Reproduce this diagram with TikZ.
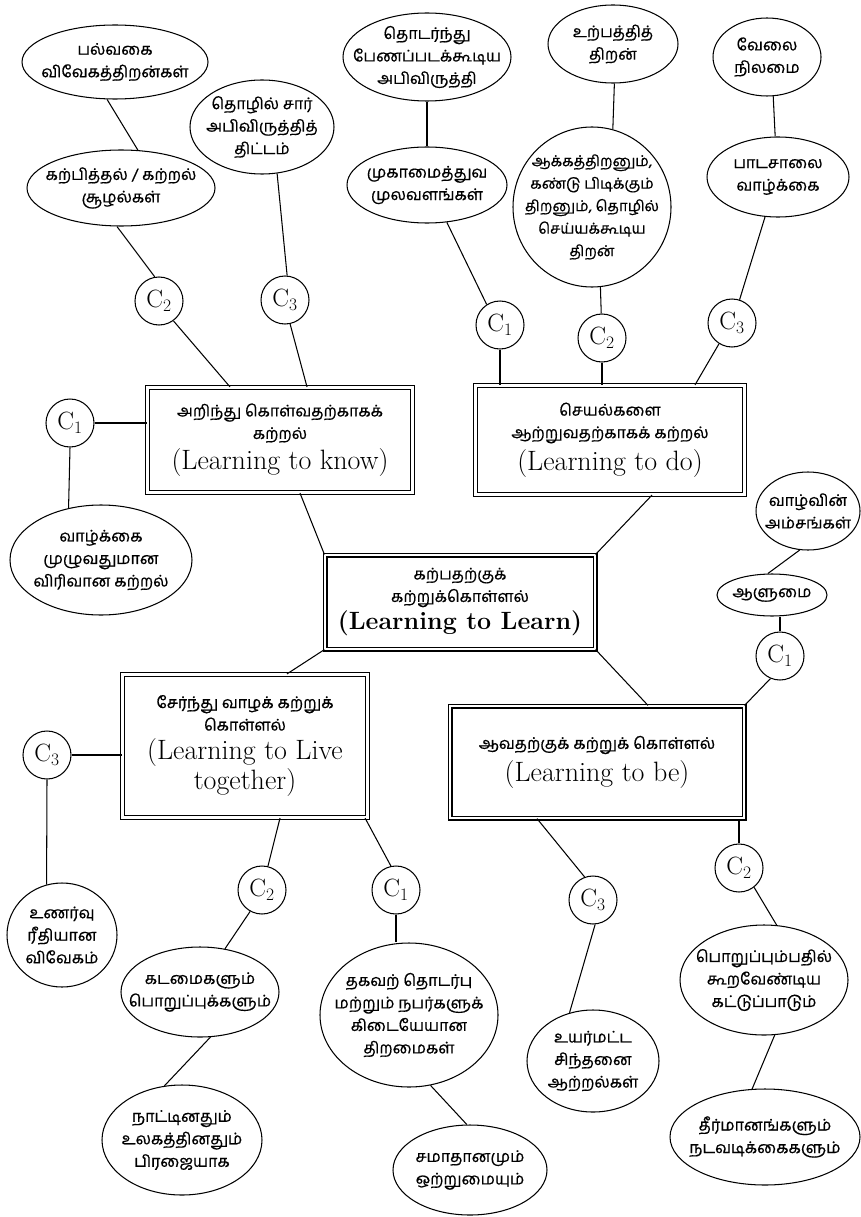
\documentclass[tikz,border=0pt]{standalone}
\usepackage{fontspec}
\usetikzlibrary{shapes.geometric}
\newfontfamily\tamil[Script=Tamil,FakeBold=0.6]{Hind Madurai}
\newcommand{\tamfont}{\tamil\fontsize{16}{22.5}\selectfont}
\newcommand{\engfont}{\rmfamily\fontsize{28}{31}\selectfont}

\begin{document}
\begin{tikzpicture}[x=1pt,y=-1pt,line width=1.05pt,
    ell/.style={draw,ellipse,inner sep=0pt},
    tam/.style={font=\tamfont,align=center,inner sep=0pt},
    cir/.style={draw,circle,minimum size=48,inner sep=0pt,font=\fontsize{25}{25}\selectfont},
    dbox/.style={draw,double,double distance=2.6pt,line width=1.2pt,align=center,inner sep=2pt,font=\tamfont}]
    \useasboundingbox (0,0) rectangle (861,1217);

    % centre and the four pillars
    \node[dbox,minimum width=270,minimum height=94] (learn) at (460,602)
        {கற்பதற்குக்\\கற்றுக்கொள்ளல்\\[3pt]{\engfont\fontsize{25}{30}\selectfont\bfseries (Learning to Learn)}};
    \node[dbox,minimum width=265,minimum height=105] (know) at (280,440)
        {அறிந்து கொள்வதற்காகக்\\கற்றல்\\[5pt]{\engfont (Learning to know)}};
    \node[dbox,minimum width=269,minimum height=109] (do) at (610,440)
        {செயல்களை\\ஆற்றுவதற்காகக் கற்றல்\\[5pt]{\engfont (Learning to do)}};
    \node[dbox,minimum width=245,minimum height=143] (live) at (245,746)
        {சேர்ந்து வாழக் கற்றுக்\\கொள்ளல்\\[6pt]{\engfont (Learning to Live}\\[2pt]{\engfont together)}};
    \node[dbox,minimum width=294,minimum height=112] (be) at (597,762)
        {ஆவதற்குக் கற்றுக் கொள்ளல்\\[5pt]{\engfont (Learning to be)}};

    % C1, C2, C3
    \foreach \n/\x/\y/\i in {ka1/70/423/1,ka2/159/301/2,ka3/285/300/3,
                             kb1/500/325/1,kb2/602/338/2,kb3/732/323/3,
                             kc1/396/890/1,kc2/262/890/2,kc3/47/755/3,
                             kd1/780/656/1,kd2/739/868/2,kd3/593/900/3}
        \node[cir] (\n) at (\x,\y) {C\textsubscript{\i}};

    % know
    \node[ell,minimum width=186,minimum height=74,label={[tam]center:{பல்வகை\\விவேகத்திறன்கள்}}] (ea1) at (115,62) {};
    \node[ell,minimum width=188,minimum height=76,label={[tam]center:{கற்பித்தல் / கற்றல்\\சூழல்கள்}}] (ea2) at (121,188) {};
    \node[ell,minimum width=144,minimum height=94,label={[tam]center:{தொழில் சார்\\அபிவிருத்தித்\\திட்டம்}}] (ea3) at (262,127) {};
    \node[ell,minimum width=182,minimum height=110,label={[tam]center:{வாழ்க்கை\\முழுவதுமான\\விரிவான கற்றல்}}] (ea4) at (101,560) {};

    % do
    \node[ell,minimum width=168,minimum height=88,label={[tam]center:{தொடர்ந்து\\பேணப்படக்கூடிய\\அபிவிருத்தி}}] (eb1) at (427,57) {};
    \node[ell,minimum width=160,minimum height=76,label={[tam]center:{முகாமைத்துவ\\முலவளங்கள்}}] (eb2) at (427,185) {};
    \node[ell,minimum width=130,minimum height=78,label={[tam]center:{உற்பத்தித்\\திறன்}}] (eb3) at (613,44) {};
    \node[ell,minimum width=158,minimum height=160,label={[tam,font=\tamil\fontsize{15}{22.5}\selectfont]center:{ஆக்கத்திறனும்,\\கண்டு பிடிக்கும்\\திறனும், தொழில்\\செய்யக்கூடிய\\திறன்}}] (eb4) at (592,207) {};
    \node[ell,minimum width=108,minimum height=78,label={[tam]center:{வேலை\\நிலமை}}] (eb5) at (767,57) {};
    \node[ell,minimum width=142,minimum height=80,label={[tam]center:{பாடசாலை\\வாழ்க்கை}}] (eb6) at (778,177) {};

    % live
    \node[ell,minimum width=110,minimum height=104,label={[tam]center:{உணர்வு\\ரீதியான\\விவேகம்}}] (ec1) at (62,935) {};
    \node[ell,minimum width=158,minimum height=90,label={[tam]center:{கடமைகளும்\\பொறுப்புக்களும்}}] (ec2) at (200,992) {};
    \node[ell,minimum width=160,minimum height=110,label={[tam]center:{நாட்டினதும்\\உலகத்தினதும்\\பிரஜையாக}}] (ec3) at (182,1140) {};
    \node[ell,minimum width=178,minimum height=144,label={[tam]center:{தகவற் தொடர்பு\\மற்றும் நபர்களுக்\\கிடையேயான\\திறமைகள்}}] (ec4) at (409,1015) {};
    \node[ell,minimum width=154,minimum height=90,label={[tam]center:{சமாதானமும்\\ஒற்றுமையும்}}] (ec5) at (470,1170) {};

    % be
    \node[ell,minimum width=104,minimum height=78,label={[tam]center:{வாழ்வின்\\அம்சங்கள்}}] (ed1) at (808,511) {};
    \node[ell,minimum width=110,minimum height=42,label={[tam]center:{ஆளுமை}}] (ed2) at (772,595) {};
    \node[ell,minimum width=132,minimum height=102,label={[tam]center:{உயர்மட்ட\\சிந்தனை\\ஆற்றல்கள்}}] (ed3) at (593,1061) {};
    \node[ell,minimum width=168,minimum height=110,label={[tam]center:{பொறுப்பும்பதில்\\கூறவேண்டிய\\கட்டுப்பாடும்}}] (ed4) at (764,980) {};
    \node[ell,minimum width=190,minimum height=96,label={[tam]center:{தீர்மானங்களும்\\நடவடிக்கைகளும்}}] (ed5) at (765,1137) {};

    % links: know
    \draw (ea1.-102) -- (ea2.66);
    \draw (ea2.-96) -- (ka2.100);
    \draw (ea3.-72) -- (ka3.85);
    \draw (ka2.-54) -- ([xshift=-50]know.north);
    \draw (ka3.-78) -- ([xshift=27]know.north);
    \draw (ka1.east) -- (ka1.east -| know.west);
    \draw (ka1.south) -- (ea4.122);
    % links: do
    \draw (eb1) -- (eb2);
    \draw (eb2.-62) -- (kb1.123);
    \draw (kb1.south) -- (kb1.south |- do.north);
    \draw (eb3.-88) -- (eb4.75);
    \draw (eb4.-84) -- (kb2);
    \draw (kb2.south) -- (kb2.south |- do.north);
    \draw (eb5.-81) -- (eb6.94);
    \draw (eb6.-108) -- (kb3.72);
    \draw (kb3.-122) -- ([xshift=85]do.north);
    % links: centre
    \draw ([xshift=20]know.south) -- (learn.north west);
    \draw ([xshift=42]do.south) -- (learn.north east);
    \draw (learn.south west) -- ([xshift=42]live.north);
    \draw (learn.south east) -- ([xshift=51]be.north);
    % links: live
    \draw (kc3.east) -- (kc3.east -| live.west);
    \draw (kc3.south) -- (ec1.107);
    \draw ([xshift=35]live.south) -- (kc2.76);
    \draw ([xshift=-3]live.south east) -- (kc1.102);
    \draw (kc2.-119) -- (ec2.60);
    \draw (ec2.-77) -- (ec3.108);
    \draw (kc1.south) -- (kc1.south |- ec4.north);
    \draw (ec4.-73) -- (ec5.94);
    % links: be
    \draw (ed1.-102) -- (ed2.101);
    \draw (kd1.north) -- (kd1.north |- ed2.south);
    \draw (kd1.-113) -- (be.north east);
    \draw (kd2.north) -- (kd2.north |- be.south);
    \draw ([xshift=-60]be.south) -- (kd3.110);
    \draw (kd3.-85) -- (ed3.116);
    \draw (kd2.-52) -- (ed4.77);
    \draw (ed4.-79) -- (ed5.105);
\end{tikzpicture}
\end{document}
